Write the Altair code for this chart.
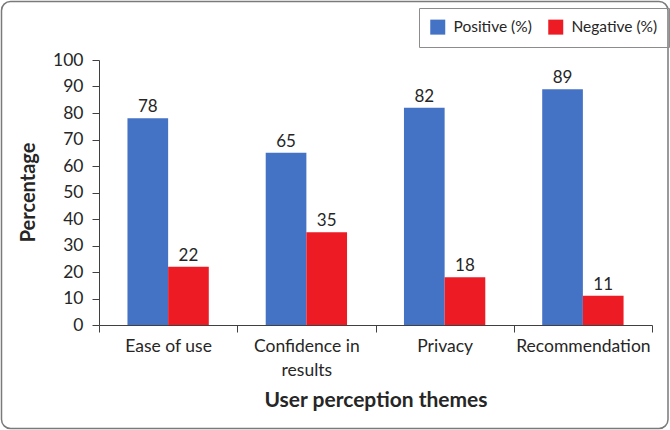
import altair as alt
import pandas as pd

categories = ["Ease of use", "Confidence in results", "Privacy", "Recommendation"]
positive = [78, 65, 82, 89]
negative = [22, 35, 18, 11]
series_names = ["Positive (%)", "Negative (%)"]
series_colors = ["#4472C4", "#ED1C24"]
y_ticks = list(range(0, 101, 10))

rows = []
for c, p, n in zip(categories, positive, negative):
    rows.append({"theme": c, "series": series_names[0], "value": p})
    rows.append({"theme": c, "series": series_names[1], "value": n})
df = pd.DataFrame(rows)

FONT = "Lato"
TXT = "#262626"
AX = "#404040"

x_enc = alt.X(
    "theme:N",
    sort=categories,
    scale=alt.Scale(paddingInner=0, paddingOuter=0),
    axis=alt.Axis(
        title="User perception themes",
        labelAngle=0,
        tickBand="extent",
        tickSize=7,
        labelPadding=5,
        labelFontSize=17.5,
        labelColor=TXT,
        labelFont=FONT,
        labelExpr="datum.label == 'Confidence in results' ? ['Confidence in', 'results'] : datum.label",
        labelLineHeight=24,
        titleFontSize=21,
        titleFont=FONT,
        titleFontWeight="bold",
        titleColor=TXT,
        titleY=75,
        titleBaseline="middle",
        domainColor=AX,
        tickColor=AX,
    ),
)
xoff_enc = alt.XOffset(
    "series:N",
    sort=series_names,
    scale=alt.Scale(paddingInner=0, paddingOuter=0.7),
)
y_enc = alt.Y(
    "value:Q",
    scale=alt.Scale(domain=[0, 100], nice=False),
    axis=alt.Axis(
        title="Percentage",
        values=y_ticks,
        grid=False,
        tickSize=7,
        labelPadding=9,
        labelFontSize=17.5,
        labelColor=TXT,
        labelFont=FONT,
        titleFontSize=20,
        titleFont=FONT,
        titleFontWeight="bold",
        titleColor=TXT,
        titleAngle=-90,
        titleX=-71,
        titleY=132,
        titleBaseline="middle",
        domainColor=AX,
        tickColor=AX,
    ),
)

base = alt.Chart(df).encode(x=x_enc, xOffset=xoff_enc, y=y_enc)

bars = base.mark_bar().encode(
    color=alt.Color(
        "series:N",
        sort=series_names,
        scale=alt.Scale(domain=series_names, range=series_colors),
        legend=alt.Legend(
            title=None,
            orient="none",
            legendX=320,
            legendY=-52,
            direction="horizontal",
            symbolType="square",
            symbolSize=225,
            symbolStrokeWidth=0,
            labelFontSize=15.5,
            labelFont=FONT,
            labelColor=TXT,
            labelOffset=8,
            columnPadding=16,
            padding=11,
            strokeColor="#8c8c8c",
            symbolOpacity=1,
        ),
    )
)

labels = base.mark_text(dy=-11, fontSize=17, font=FONT, color=TXT).encode(text="value:Q")

border = (
    alt.Chart(pd.DataFrame({"b": [0]}))
    .mark_rect(fill="transparent", stroke="#7a7a7a", strokeWidth=1.5, cornerRadius=9, clip=False)
    .encode(x=alt.value(-97.5), x2=alt.value(569), y=alt.value(-58.5), y2=alt.value(368.5))
)

chart = (
    alt.layer(border, bars, labels)
    .properties(
        width=553,
        height=265,
        autosize=alt.AutoSizeParams(type="none"),
        padding={"left": 99, "top": 60, "right": 18, "bottom": 105},
        background="white",
    )
    .configure_view(stroke=None)
)

chart.save("out.html", embed_options={"renderer": "svg", "actions": False})
